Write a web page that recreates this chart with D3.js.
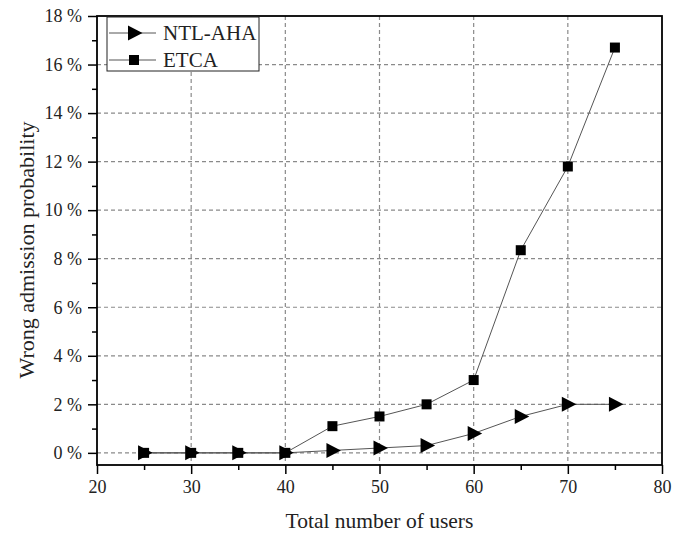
<!DOCTYPE html>
<html><head><meta charset="utf-8">
<script src="https://cdn.jsdelivr.net/npm/d3@7"></script>
<style>body{margin:0;background:#fff}svg{display:block}</style>
</head><body>
<svg id="c" width="682" height="533"></svg>
<script>
const users = [25,30,35,40,45,50,55,60,65,70,75];
const ntlAha = [0,0,0,0,0.1,0.2,0.3,0.8,1.5,2.0,2.0];
const etca = [0,0,0,0,1.1,1.5,2.0,3.0,8.35,11.8,16.7];
const xTicks = [20,30,40,50,60,70,80];
const yTicks = [0,2,4,6,8,10,12,14,16,18];
const seriesNames = ["NTL-AHA","ETCA"];

const svg = d3.select("#c");
const m = {l:97, r:662, t:16, b:465};
const x = d3.scaleLinear().domain([20,80]).range([m.l,m.r]);
const y = d3.scaleLinear().domain([-0.5,18]).range([m.b,m.t]);
const font = "Liberation Serif, Times New Roman, serif";

// grid
const g = svg.append("g");
g.selectAll(".gx").data(xTicks.filter(d=>d>20&&d<80)).join("line")
  .attr("x1",d=>x(d)).attr("x2",d=>x(d)).attr("y1",m.t).attr("y2",m.b)
  .attr("stroke","#8a8a8a").attr("stroke-width",1.2).attr("stroke-dasharray","4,3");
g.selectAll(".gy").data(yTicks.filter(d=>d<18)).join("line")
  .attr("y1",d=>y(d)).attr("y2",d=>y(d)).attr("x1",m.l).attr("x2",m.r)
  .attr("stroke","#8a8a8a").attr("stroke-width",1.2).attr("stroke-dasharray","4,3");

// axes
const xAxis = d3.axisBottom(x).tickValues(xTicks).tickSize(9).tickPadding(6).tickFormat(d3.format("d"));
const xMinor = d3.axisBottom(x).tickValues(d3.range(25,80,10)).tickSize(5).tickFormat("");
const yAxis = d3.axisLeft(y).tickValues(yTicks).tickSize(9).tickPadding(6).tickFormat(d=>d+" %");
const yMinor = d3.axisLeft(y).tickValues(d3.range(1,18,2)).tickSize(5).tickFormat("");

function style(sel){
  sel.select(".domain").remove();
  sel.selectAll("line").attr("stroke","#000").attr("stroke-width",1.5);
  sel.selectAll("text").attr("font-family",font).attr("font-size",18).attr("fill","#222");
}
svg.append("g").attr("transform",`translate(0,${m.b})`).call(xAxis).call(style);
svg.append("g").attr("transform",`translate(0,${m.b})`).call(xMinor).call(style);
svg.append("g").attr("transform",`translate(${m.l},0)`).call(yAxis).call(style);
svg.append("g").attr("transform",`translate(${m.l},0)`).call(yMinor).call(style);

// frame
svg.append("rect").attr("x",m.l).attr("y",m.t).attr("width",m.r-m.l).attr("height",m.b-m.t)
  .attr("fill","none").attr("stroke","#000").attr("stroke-width",1.8);

// lines
const line = d3.line().x((d,i)=>x(users[i])).y(d=>y(d));
[ntlAha, etca].forEach(s=>{
  svg.append("path").datum(s).attr("d",line).attr("fill","none").attr("stroke","#555").attr("stroke-width",1);
});

function triangle(sel){
  sel.append("path").attr("d","M-6,-7.5L8.5,0L-6,7.5Z").attr("fill","#000");
}
function square(sel){
  sel.append("rect").attr("x",-5).attr("y",-5).attr("width",10).attr("height",10).attr("fill","#000");
}
svg.selectAll(".ms").data(etca).join("g").attr("transform",(d,i)=>`translate(${x(users[i])},${y(d)})`).call(square);
svg.selectAll(".mt").data(ntlAha).join("g").attr("transform",(d,i)=>`translate(${x(users[i])},${y(d)})`).call(triangle);

// legend
const lg = svg.append("g");
lg.append("rect").attr("x",107).attr("y",17).attr("width",152).attr("height",54)
  .attr("fill","#fff").attr("stroke","#222").attr("stroke-width",1);
[triangle, square].forEach((fn,i)=>{
  const yy = 33 + i*27;
  lg.append("line").attr("x1",109).attr("x2",156).attr("y1",yy).attr("y2",yy).attr("stroke","#555").attr("stroke-width",1);
  lg.append("g").attr("transform",`translate(134,${yy})`).call(fn);
  lg.append("text").attr("x",163).attr("y",yy+7).text(seriesNames[i])
    .attr("font-family",font).attr("font-size",21).attr("fill","#222");
});

// titles
svg.append("text").attr("x",(m.l+m.r)/2).attr("y",528).attr("text-anchor","middle")
  .attr("font-family",font).attr("font-size",21.5).attr("fill","#222").text("Total number of users");
svg.append("text").attr("transform",`translate(34,${250}) rotate(-90)`).attr("text-anchor","middle")
  .attr("font-family",font).attr("font-size",22).attr("fill","#222").text("Wrong admission probability");
</script>
</body></html>
